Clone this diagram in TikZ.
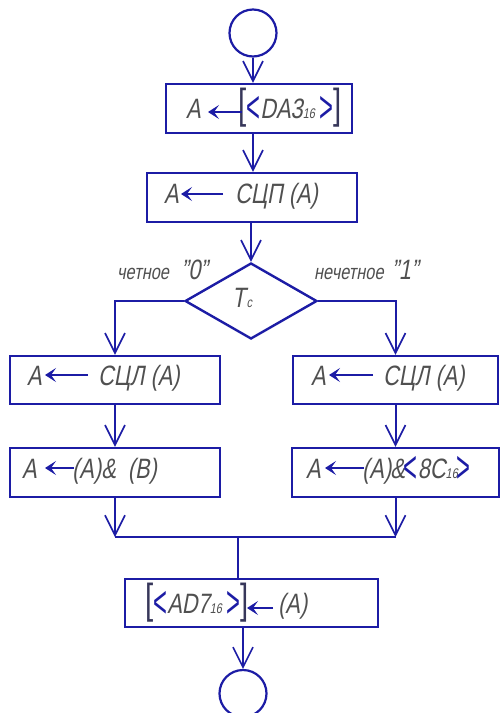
\documentclass[tikz,border=0pt]{standalone}
\usepackage{fontspec}
\usepackage{graphicx}
\setmainfont{Liberation Sans}[FakeSlant=0.18, FakeStretch=0.78]
\newfontfamily\uprightfont{Liberation Sans}[FakeStretch=0.7]
\newfontfamily\chevfont{Liberation Sans}
\usetikzlibrary{arrows.meta,shapes.geometric}
\definecolor{flowblue}{RGB}{28,28,165}
\definecolor{inkgray}{RGB}{80,80,80}
\definecolor{bracketgray}{RGB}{55,55,90}
\newcommand\bigsz{\fontsize{28}{28}\selectfont}
\newcommand\chl{\textcolor{flowblue}{\raisebox{-4pt}{\scalebox{0.85}[1.6]{\chevfont <}}}}
\newcommand\chr{\textcolor{flowblue}{\raisebox{-4pt}{\scalebox{0.85}[1.6]{\chevfont >}}}}
\newcommand\brk[1]{{\textcolor{bracketgray}{\uprightfont\fontsize{42}{42}\selectfont #1}}}
\newcommand\sub[1]{{\fontsize{14}{14}\selectfont #1}}
\tikzset{
  box/.style={draw=flowblue, line width=2.4pt, rectangle, inner sep=0pt},
  decision/.style={draw=flowblue, line width=2.4pt, diamond, inner sep=0pt,
    minimum width=132pt, minimum height=76pt},
  terminal/.style={draw=flowblue, line width=2.2pt, circle, inner sep=0pt,
    minimum size=47pt},
  flow/.style={draw=flowblue, line width=2pt,
    -{Straight Barb[length=20pt,width=20pt,line width=1.6pt]}},
  link/.style={draw=flowblue, line width=2pt},
  txt/.style={inner sep=0pt, text=inkgray, font=\bigsz},
  lbl/.style={inner sep=0pt, text=inkgray},
  txtarrow/.style={draw=flowblue, line width=2.4pt,
    -{Stealth[length=11pt,width=14pt,inset=5pt]}},
}
\begin{document}
\begin{tikzpicture}[x=1pt,y=-1pt]
\useasboundingbox (0,0) rectangle (500,713);

% terminals, process boxes, decision
\node[terminal] (start) at (253,33) {};
\node[box, minimum width=186pt, minimum height=49pt] (b1) at (259,108.5) {};
\node[box, minimum width=210pt, minimum height=49pt] (b2) at (252,197.5) {};
\node[decision] (dec) at (251,301) {};
\node[box, minimum width=210pt, minimum height=48pt] (b3l) at (115,380) {};
\node[box, minimum width=205pt, minimum height=48pt] (b3r) at (395.5,380) {};
\node[box, minimum width=210pt, minimum height=49pt] (b4l) at (115,472.5) {};
\node[box, minimum width=207pt, minimum height=49pt] (b4r) at (395.5,472.5) {};
\node[box, minimum width=253pt, minimum height=48pt] (b5) at (251.5,603) {};
\node[terminal] (end) at (243,693.5) {};
\coordinate (j) at (238,537);

% connectors
\draw[flow] (start) -- (start |- b1.north);
\draw[flow] (b1.south -| start) -- (b2.north -| start);
\draw[flow] (b2.south -| dec) -- (dec.north);
\draw[flow] (dec.west) -| (b3l.north);
\draw[flow] (dec.east) -| (b3r.north);
\draw[flow] (b3l) -- (b4l);
\draw[flow] (b3r) -- (b4r);
\draw[flow] (b4l) -- (b4l |- j);
\draw[flow] (b4r) -- (b4r |- j);
\draw[link] (b4l |- j) -- (b4r |- j);
\draw[link] (j) -- (j |- b5.north);
\draw[flow] (b5.south -| end) -- (end);

% box texts
\node[txt, anchor=base west] (a1) at (186,118) {A};
\node[txt, anchor=base west] (v1) at (238,118) {\brk{[}\chl DA3\sub{16}\,\chr\brk{]}};
\coordinate (h1) at (208,112); \coordinate (t1) at (242,112);
\draw[txtarrow] (t1) -- (h1);

\node[txt, anchor=base west] (a2) at (164,203) {A};
\node[txt, anchor=base west] (v2) at (235,203) {СЦП (А)};
\coordinate (h2) at (181,194); \coordinate (t2) at (223,194);
\draw[txtarrow] (t2) -- (h2);

\node[txt, anchor=base west] (a3l) at (27,385) {A};
\node[txt, anchor=base west] (v3l) at (98,385) {СЦЛ (А)};
\coordinate (h3l) at (45,375); \coordinate (t3l) at (88,375);
\draw[txtarrow] (t3l) -- (h3l);

\node[txt, anchor=base west] (a3r) at (311,385) {A};
\node[txt, anchor=base west] (v3r) at (383,385) {СЦЛ (А)};
\coordinate (h3r) at (329,375); \coordinate (t3r) at (373,375);
\draw[txtarrow] (t3r) -- (h3r);

\node[txt, anchor=base west] (a4l) at (22,478) {A};
\node[txt, anchor=base west] (v4l) at (72,478) {(A)\&\hspace{12pt}(B)};
\coordinate (h4l) at (45,468); \coordinate (t4l) at (74,468);
\draw[txtarrow] (t4l) -- (h4l);

\node[txt, anchor=base west] (a4r) at (306,478) {A};
\node[txt, anchor=base west] (v4r) at (362,478)
  {(A)\hspace{-1pt}\&\hspace{-1pt}\chl 8C\sub{16}\hspace{-1pt}\chr};
\coordinate (h4r) at (325,468); \coordinate (t4r) at (364,468);
\draw[txtarrow] (t4r) -- (h4r);

\node[txt, anchor=base west] (v5) at (145,613) {\brk{[}\chl AD7\sub{16}\,\chr\brk{]}};
\node[txt, anchor=base west] (a5) at (278,613) {(A)};
\coordinate (h5) at (247,608); \coordinate (t5) at (273,608);
\draw[txtarrow] (t5) -- (h5);

% decision text and branch labels
\node[lbl, anchor=base west, font=\bigsz] (tc) at (232,307) {T\hspace{1pt}\sub{c}};
\node[lbl, anchor=base west] (l0) at (117,279)
  {{\fontsize{21}{21}\selectfont четное}\hspace{12pt}{\bigsz "0"}};
\node[lbl, anchor=base west] (l1) at (314,279)
  {{\fontsize{21}{21}\selectfont нечетное}\hspace{8pt}{\bigsz "1"}};
\end{tikzpicture}
\end{document}
